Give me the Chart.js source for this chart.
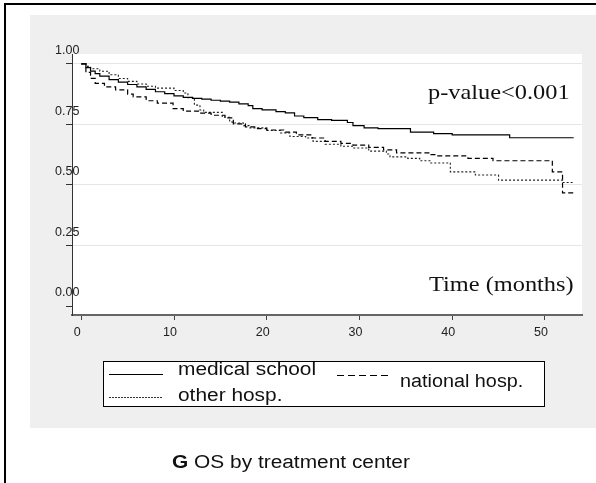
<!DOCTYPE html>
<html lang="en">
<head>
<meta charset="UTF-8">
<title>OS by treatment center</title>
<script src="https://cdn.jsdelivr.net/npm/chart.js"></script>
<style>
  body { margin: 0; background: #fff; font-family: 'Liberation Sans', Arial, sans-serif; }
  .wrap { position: relative; width: 596px; height: 483px; overflow: hidden; }
  .wrap canvas { position: absolute; left: 0; top: 0; }
  .txt { position: absolute; white-space: nowrap; line-height: 1; transform-origin: 0 0; transform: scaleX(1.16); color: #111; }
  .sans { font-size: 18px; }
  .serif { font-family: 'Liberation Serif', 'Times New Roman', serif; font-size: 21px; }
  .legend-box { position: absolute; left: 103px; top: 361px; width: 442px; height: 46px; border: 1px solid #000; background: #fff; box-sizing: border-box; }
  .sample { position: absolute; width: 54px; height: 1px; }
</style>
</head>
<body>
<div class="wrap">
  <canvas id="km" width="596" height="483"></canvas>

  <div class="txt serif" style="left:428px; top:82px;">p-value&lt;0.001</div>
  <div class="txt serif" style="left:429px; top:274px;">Time (months)</div>

  <div class="legend-box"></div>
  <div class="sample" style="left:109px; top:374px; background:#000;"></div>
  <div class="txt sans" style="left:178px; top:360px;">medical school</div>
  <div class="sample" style="left:337px; top:375px; background:repeating-linear-gradient(to right,#000 0 7px,transparent 7px 11px);"></div>
  <div class="txt sans" style="left:400px; top:372px; transform:scaleX(1.1);">national hosp.</div>
  <div class="sample" style="left:109px; top:397px; background:repeating-linear-gradient(to right,#333 0 2px,transparent 2px 3px);"></div>
  <div class="txt sans" style="left:178px; top:386px;">other hosp.</div>

  <div class="txt sans" style="left:172px; top:453px;"><b>G</b> OS by treatment center</div>
</div>

<script>
// Kaplan-Meier estimates (time in months, survival fraction)
const medTime = [0,0.5,1,1.5,2,3,4,5,6,7,8,9,10,11,12,13,14,15,16,17,18,18.5,19.5,21,22,23,24,25.5,27,28.7,29.3,30.5,32,35.5,38,40,46.2,53.1];
const medSurv = [1,0.985,0.97,0.96,0.95,0.935,0.925,0.915,0.905,0.895,0.885,0.877,0.868,0.862,0.858,0.855,0.85,0.846,0.842,0.835,0.828,0.815,0.81,0.803,0.798,0.785,0.778,0.77,0.767,0.758,0.745,0.736,0.733,0.718,0.712,0.707,0.695,0.695];

const natTime = [0,0.5,1,1.5,2.5,3.7,5,5.6,7,8.2,9.9,11,12.8,14,15.5,16.4,17.7,19,20,22,23.2,24.9,26.3,28,29.3,31,32.6,34,37.6,38.2,41.7,44.4,50.8,51.9,53.1];
const natSurv = [1,0.965,0.94,0.92,0.905,0.893,0.875,0.864,0.848,0.838,0.815,0.805,0.797,0.788,0.777,0.752,0.74,0.733,0.727,0.718,0.707,0.694,0.68,0.672,0.665,0.655,0.645,0.633,0.625,0.62,0.61,0.60,0.554,0.467,0.467];

const othTime = [0,0.5,1,2,3,4,5,6,7,8,10,11,11.5,12.2,12.8,13.2,15.2,16,16.3,17.5,18.2,20,21.5,22.5,24.2,25,26.3,28,29.3,31,32.9,33.3,35.2,36.5,37.6,39.8,42.5,45,51.9,53];
const othSurv = [1,0.99,0.98,0.97,0.955,0.94,0.928,0.917,0.908,0.90,0.89,0.88,0.86,0.83,0.81,0.80,0.78,0.76,0.756,0.745,0.736,0.725,0.715,0.70,0.694,0.68,0.668,0.66,0.653,0.64,0.628,0.616,0.61,0.60,0.591,0.554,0.541,0.52,0.51,0.51];

const seriesNames = ['medical school', 'national hosp.', 'other hosp.'];
const xTicks = [0, 10, 20, 30, 40, 50];
const yTicks = [0, 0.25, 0.5, 0.75, 1];

function toPoints(ts, ss) {
  return ts.map((t, i) => ({ x: t, y: ss[i] }));
}

// gray panel, white plot region and the black frame edges
const panelPlugin = {
  id: 'panel',
  beforeDraw(chart) {
    const ctx = chart.ctx;
    const a = chart.chartArea;
    ctx.save();
    ctx.fillStyle = '#fff';
    ctx.fillRect(0, 0, chart.width, chart.height);
    ctx.fillStyle = '#efefef';
    ctx.fillRect(30, 15, chart.width - 30, 413);
    ctx.fillStyle = '#fff';
    ctx.fillRect(a.left, a.top, a.right - a.left, a.bottom - a.top);
    ctx.fillStyle = '#000';
    ctx.fillRect(4, 3, chart.width - 4, 2);
    ctx.fillRect(4, 3, 2, chart.height - 3);
    ctx.restore();
  }
};

const tickFont = { family: "'Liberation Sans', Arial, sans-serif", size: 12.5 };

new Chart(document.getElementById('km'), {
  type: 'line',
  data: {
    datasets: [
      { label: seriesNames[0], data: toPoints(medTime, medSurv), borderColor: '#000', borderWidth: 1.2 },
      { label: seriesNames[1], data: toPoints(natTime, natSurv), borderColor: '#000', borderWidth: 1.2, borderDash: [5, 3] },
      { label: seriesNames[2], data: toPoints(othTime, othSurv), borderColor: '#222', borderWidth: 1.1, borderDash: [2, 2] }
    ]
  },
  options: {
    responsive: false,
    animation: false,
    devicePixelRatio: 1,
    datasets: { line: { stepped: 'before', pointRadius: 0, fill: false, tension: 0 } },
    layout: { padding: { left: 30, top: 54, right: 14, bottom: 138 } },
    plugins: { legend: { display: false }, tooltip: { enabled: false } },
    scales: {
      x: {
        type: 'linear',
        min: -1,
        max: 54,
        afterBuildTicks: s => { s.ticks = xTicks.map(v => ({ value: v })); },
        afterFit: s => { s.height = 30; },
        grid: { drawOnChartArea: false, tickLength: 5, tickColor: '#444' },
        border: { color: '#666', width: 2 },
        ticks: { font: tickFont, color: '#222', padding: 5, labelOffset: -4, maxRotation: 0 }
      },
      y: {
        min: -0.037,
        max: 1.041,
        afterBuildTicks: s => { s.ticks = yTicks.map(v => ({ value: v })); },
        afterFit: s => { s.width = 42; },
        grid: {
          color: c => (c.tick && c.tick.value === 0) ? 'rgba(0,0,0,0)' : '#e6e6e6',
          tickColor: '#333',
          tickLength: 6
        },
        border: { color: '#333', width: 1 },
        ticks: {
          font: tickFont,
          color: '#222',
          mirror: true,
          padding: -17,
          labelOffset: -13,
          callback: v => v.toFixed(2)
        }
      }
    }
  },
  plugins: [panelPlugin]
});
</script>
</body>
</html>
